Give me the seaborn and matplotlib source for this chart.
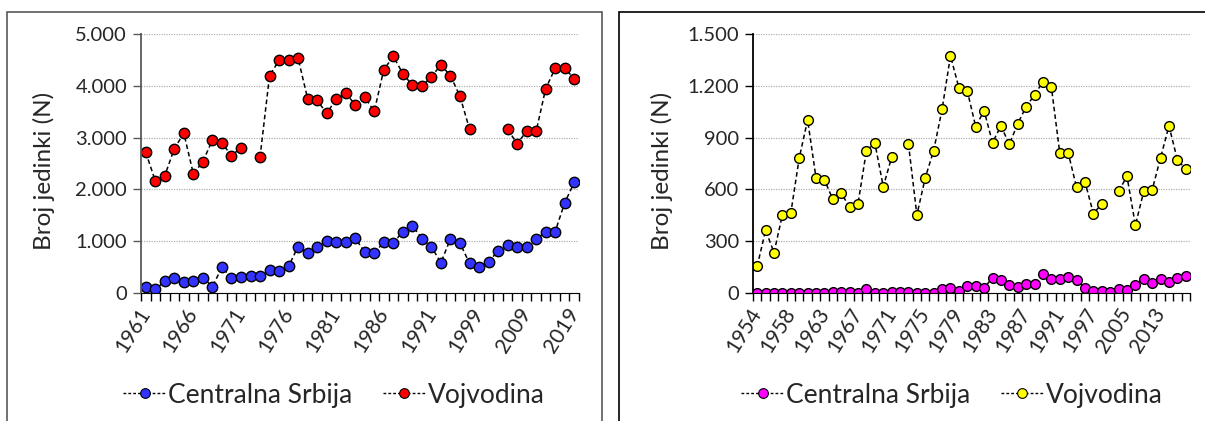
import numpy as np
import pandas as pd
import seaborn as sns
import matplotlib.pyplot as plt
from matplotlib.patches import Rectangle
from matplotlib.lines import Line2D
from matplotlib.ticker import FuncFormatter

# levi grafikon (kategorije godina, neke godine nedostaju)
years_a = list(range(1961, 1992)) + [1992, 1993, 1995, 1997, 1999,
                                     2001, 2003, 2005, 2007, 2009,
                                     2011, 2013, 2015, 2017, 2019]
srbija_a = [123, 71, 226, 284, 219, 232, 297, 123, 497, 297,
            316, 329, 329, 445, 419, 516, 897, 774, 897, 1000,
            987, 987, 1058, 787, 768, 981, 968, 1187, 1303, 1052,
            890, 587, 1045, 961, 574, 510, 600, 813, 929, 897,
            897, 1039, 1181, 1187, 1742, 2135]
vojvodina_a = [2717, 2164, 2267, 2788, 3084, 2299, 2537, 2955, 2897, 2653,
               2801, np.nan, 2621, 4196, 4492, 4492, 4531, 3752, 3720, 3469,
               3740, 3855, 3637, 3778, 3508, 4312, 4569, 4235, 4010, 3990,
               4177, 4402, 4196, 3797, 3167, np.nan, np.nan, np.nan, 3161, 2884,
               3122, 3122, 3945, 4338, 4344, 4132]

# desni grafikon
years_b = [1954, 1955, 1956, 1957, 1958, 1960, 1961, 1962] + list(range(1963, 1992)) + \
          [1993, 1995, 1996, 1997, 1999, 2001, 2003, 2005,
           2007, 2009, 2011, 2013, 2015, 2017, 2019]
srbija_b = [0, 0, 0, 0, 0, 0, 0, 0, 0, 8,
            8, 4, 0, 21, 0, 0, 8, 4, 8, 0,
            0, 0, 25, 29, 14, 41, 43, 29, 89, 75,
            48, 33, 54, 54, 108, 81, 81, 95, 74, 29,
            14, 14, 6, 25, 17, 46, 81, 56, 83, 66,
            85, 97]
vojvodina_b = [155, 364, 234, 453, 463, 782, 1002, 667, 655, 543,
               578, 497, 518, 825, 869, 616, 786, np.nan, 863, 452,
               668, 825, 1064, 1373, 1189, 1170, 964, 1056, 871, 968,
               861, 981, 1079, 1147, 1224, 1195, 813, 813, 612, 645,
               460, 516, np.nan, 589, 676, 393, 589, 597, 784, 968,
               771, 717]

sns.set_style('white')
plt.rcParams['font.family'] = ['Lato', 'DejaVu Sans']

fig = plt.figure(figsize=(12.05, 4.21), dpi=100)
W, H = 1205, 421


def segments(vals):
    df = pd.DataFrame({'x': np.arange(len(vals)), 'y': vals})
    df['seg'] = df['y'].isna().cumsum()
    return df.dropna()


def panel(rect, years, s1, s2, c1, c2, ymax, ystep, step, axcol, msize):
    ax = fig.add_axes(rect)
    n = len(years)
    for vals, col in [(s2, c2), (s1, c1)]:
        sns.lineplot(data=segments(vals), x='x', y='y', units='seg', estimator=None,
                     color='black', linestyle=(0, (3, 2)), linewidth=1.1,
                     marker='o', markersize=msize, markerfacecolor=col,
                     markeredgecolor='black', markeredgewidth=1, ax=ax)
    ax.set_xlim(-0.5, n - 0.5)
    ax.set_ylim(0, ymax)
    ax.set_yticks(np.arange(0, ymax + 1, ystep))
    ax.yaxis.set_major_formatter(FuncFormatter(lambda v, p: f'{v:,.0f}'.replace(',', '.')))
    ax.set_xticks(range(0, n, step))
    ax.set_xticklabels([str(years[i]) for i in range(0, n, step)], rotation=58,
                       ha='right', va='center', rotation_mode='anchor')
    ax.set_xticks(np.arange(-0.5, n), minor=True)
    ax.tick_params(axis='x', which='major', length=0, pad=12, labelsize=15)
    ax.tick_params(axis='x', which='minor', length=6, width=1, color='black', direction='out', bottom=True)
    ax.tick_params(axis='y', length=6, width=1, color=axcol, labelsize=14.5, pad=4, left=True)
    ax.grid(axis='y', color='#b0b0b0', linestyle=(0, (1, 1)), linewidth=0.9)
    ax.set_axisbelow(True)
    for s in ['top', 'right']:
        ax.spines[s].set_visible(False)
    ax.spines['left'].set_color(axcol)
    ax.spines['left'].set_linewidth(1.3)
    ax.spines['bottom'].set_color('black')
    ax.set_xlabel('')
    ax.set_ylabel('Broj jedinki (N)', fontsize=17.5)
    return ax


ax1 = panel([141 / W, 1 - 293 / H, 438 / W, 259 / H], years_a, srbija_a, vojvodina_a,
            '#3333ff', '#ff0000', 5000, 1000, 5, '#595959', 7.5)
ax1.yaxis.set_label_coords(-0.196, 0.47)
ax2 = panel([753 / W, 1 - 293 / H, 437 / W, 259 / H], years_b, srbija_b, vojvodina_b,
            '#ff00ff', '#ffff00', 1500, 300, 4, 'black', 7)
ax2.yaxis.set_label_coords(-0.183, 0.47)

# okviri oko grafikona
fig.patches.append(Rectangle((7 / W, -0.05), 595 / W, 1.05 - 12 / H, transform=fig.transFigure,
                             fill=False, edgecolor='#595959', linewidth=1.2))
fig.patches.append(Rectangle((619 / W, -0.05), 600 / W, 1.05 - 12 / H, transform=fig.transFigure,
                             fill=False, edgecolor='black', linewidth=1.2))


def handles(c1, c2):
    kw = dict(color='black', linestyle=(0, (2, 1.5)), linewidth=1, marker='o', markersize=7,
              markeredgecolor='black', markeredgewidth=0.8)
    return [Line2D([], [], markerfacecolor=c1, **kw), Line2D([], [], markerfacecolor=c2, **kw)]


for c1, c2, cx in [('#3333ff', '#ff0000', 334), ('#ff00ff', '#ffff00', 952)]:
    fig.legend(handles(c1, c2), ['Centralna Srbija', 'Vojvodina'], loc='center',
               bbox_to_anchor=(cx / W, 1 - 395 / H), ncol=2, frameon=False, fontsize=19,
               handlelength=1.6, handletextpad=0.1, columnspacing=1.15)

fig.savefig('out.png', dpi=100)
